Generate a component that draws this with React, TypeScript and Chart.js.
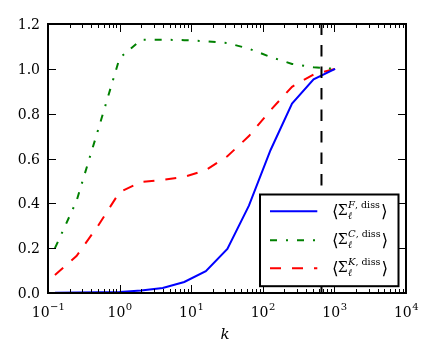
import React, { useEffect, useRef } from "react";
import { Chart, registerables } from "chart.js";

Chart.register(...registerables);

const kValues = [0.125, 0.25, 0.5, 1, 2, 4, 8, 16, 32, 64, 128, 256, 512, 1024];
const sigmaF = [0.001, 0.002, 0.003, 0.005, 0.011, 0.022, 0.049, 0.097, 0.197, 0.39, 0.637, 0.845, 0.953, 1.0];
const sigmaC = [0.2, 0.41, 0.727, 1.048, 1.13, 1.13, 1.128, 1.123, 1.115, 1.09, 1.053, 1.022, 1.007, 1.0];
const sigmaK = [0.08, 0.165, 0.3, 0.45, 0.495, 0.505, 0.518, 0.548, 0.61, 0.7, 0.815, 0.92, 0.975, 1.0];
const cutoffK = 660;
const yTickValues = [0, 0.2, 0.4, 0.6, 0.8, 1.0, 1.2];
const yTickLabels = ["0.0", "0.2", "0.4", "0.6", "0.8", "1.0", "1.2"];
const xDecadeExponents = [-1, 0, 1, 2, 3, 4];
const xTickExpLabels = ["\u22121", "0", "1", "2", "3", "4"];
const legendSupers = ["F", "C", "K"];
const xAxisLabel = "k";

const SERIF = "'DejaVu Serif', serif";

const seriesStyles = [
  { color: "#0000ff", dash: [] as number[] },
  { color: "#008000", dash: [7, 9, 2, 9] },
  { color: "#ff0000", dash: [11, 11] },
];

const framePlugin = {
  id: "framePlugin",
  afterDatasetsDraw(chart: any) {
    const { ctx, chartArea: a, scales } = chart;
    const x = scales.x;
    const y = scales.y;
    ctx.save();
    // ticks
    ctx.strokeStyle = "#000";
    ctx.lineWidth = 1;
    ctx.setLineDash([]);
    const vline = (px: number, len: number) => {
      const p = Math.round(px) + 0.5;
      ctx.beginPath();
      ctx.moveTo(p, a.bottom);
      ctx.lineTo(p, a.bottom - len);
      ctx.moveTo(p, a.top);
      ctx.lineTo(p, a.top + len);
      ctx.stroke();
    };
    xDecadeExponents.forEach((e, i) => {
      const base = Math.pow(10, e);
      vline(x.getPixelForValue(base), 8);
      if (i < xDecadeExponents.length - 1) {
        for (let m = 2; m <= 9; m++) vline(x.getPixelForValue(base * m), 4);
      }
    });
    yTickValues.forEach((v) => {
      const p = Math.round(y.getPixelForValue(v)) + 0.5;
      ctx.beginPath();
      ctx.moveTo(a.left, p);
      ctx.lineTo(a.left + 8, p);
      ctx.moveTo(a.right, p);
      ctx.lineTo(a.right - 8, p);
      ctx.stroke();
    });
    // frame
    ctx.lineWidth = 2;
    ctx.strokeRect(a.left, a.top, a.right - a.left, a.bottom - a.top);

    // y labels
    ctx.fillStyle = "#000";
    ctx.font = `14px ${SERIF}`;
    ctx.textAlign = "right";
    ctx.textBaseline = "alphabetic";
    yTickValues.forEach((v, i) => {
      ctx.fillText(yTickLabels[i], a.left - 8, y.getPixelForValue(v) + 5);
    });
    // x labels
    ctx.textAlign = "left";
    xDecadeExponents.forEach((e, i) => {
      const px = x.getPixelForValue(Math.pow(10, e));
      ctx.font = `14px ${SERIF}`;
      const w1 = ctx.measureText("10").width;
      ctx.font = `10px ${SERIF}`;
      const w2 = ctx.measureText(xTickExpLabels[i]).width;
      const start = px - (w1 + w2) / 2;
      ctx.font = `14px ${SERIF}`;
      ctx.fillText("10", start, a.bottom + 23.5);
      ctx.font = `10px ${SERIF}`;
      ctx.fillText(xTickExpLabels[i], start + w1 + 0.5, a.bottom + 16.5);
    });
    // axis label
    ctx.font = `italic 15px ${SERIF}`;
    ctx.textAlign = "center";
    ctx.fillText(xAxisLabel, (a.left + a.right) / 2 - 2, a.bottom + 46);

    // legend
    const lx = a.right - 146;
    const ly = a.bottom - 98.5;
    const lw = 138.5;
    const lh = 91.7;
    ctx.fillStyle = "#fff";
    ctx.fillRect(lx, ly, lw, lh);
    ctx.lineWidth = 2;
    ctx.strokeStyle = "#000";
    ctx.strokeRect(lx, ly, lw, lh);
    const rows = [ly + 16.7, ly + 45.7, ly + 73.7];
    rows.forEach((cy, i) => {
      const st = seriesStyles[i];
      ctx.strokeStyle = st.color;
      ctx.lineWidth = 2;
      ctx.setLineDash(st.dash);
      ctx.beginPath();
      ctx.moveTo(lx + 10, cy);
      ctx.lineTo(lx + 57.3, cy);
      ctx.stroke();
      ctx.setLineDash([]);
      ctx.fillStyle = "#000";
      ctx.textAlign = "left";
      let tx = lx + 72;
      ctx.font = `17px 'DejaVu Sans', sans-serif`;
      ctx.fillText("\u27E8", tx, cy + 6);
      tx += ctx.measureText("\u27E8").width - 1;
      ctx.font = `14px ${SERIF}`;
      ctx.fillText("\u03A3", tx, cy + 4);
      tx += ctx.measureText("\u03A3").width + 0.5;
      ctx.font = `italic 10px ${SERIF}`;
      ctx.fillText("\u2113", tx, cy + 8);
      ctx.fillText(legendSupers[i], tx, cy - 3);
      let sx = tx + ctx.measureText(legendSupers[i]).width;
      ctx.font = `9.5px ${SERIF}`;
      ctx.fillText(", diss", sx, cy - 3);
      sx += ctx.measureText(", diss").width + 1;
      ctx.font = `17px 'DejaVu Sans', sans-serif`;
      ctx.fillText("\u27E9", sx, cy + 6);
    });
    ctx.restore();
  },
};

export default function App() {
  const ref = useRef<HTMLCanvasElement | null>(null);
  useEffect(() => {
    if (!ref.current) return;
    const mk = (vals: number[]) => kValues.map((k, i) => ({ x: k, y: vals[i] }));
    const chart = new Chart(ref.current, {
      type: "line",
      data: {
        datasets: [
          {
            data: [
              { x: cutoffK, y: yTickValues[0] },
              { x: cutoffK, y: yTickValues[yTickValues.length - 1] },
            ],
            borderColor: "#000",
            borderWidth: 2,
            borderDash: [11.5, 10],
            pointRadius: 0,
          },
          ...[sigmaF, sigmaC, sigmaK].map((vals, i) => ({
            data: mk(vals),
            borderColor: seriesStyles[i].color,
            borderWidth: 2,
            borderDash: seriesStyles[i].dash,
            pointRadius: 0,
            tension: 0,
          })),
        ],
      },
      options: {
        animation: false,
        responsive: false,
        devicePixelRatio: 1,
        layout: { padding: { left: 48, right: 31, top: 24, bottom: 67 } },
        plugins: { legend: { display: false }, tooltip: { enabled: false } },
        scales: {
          x: { type: "logarithmic", min: 0.1, max: 10000, display: false },
          y: { type: "linear", min: 0, max: 1.2, display: false },
        },
      },
      plugins: [framePlugin],
    });
    return () => chart.destroy();
  }, []);
  return (
    <div style={{ position: "absolute", left: 0, top: 0, width: 437, height: 360, background: "#fff" }}>
      <canvas ref={ref} width={437} height={360} />
    </div>
  );
}
